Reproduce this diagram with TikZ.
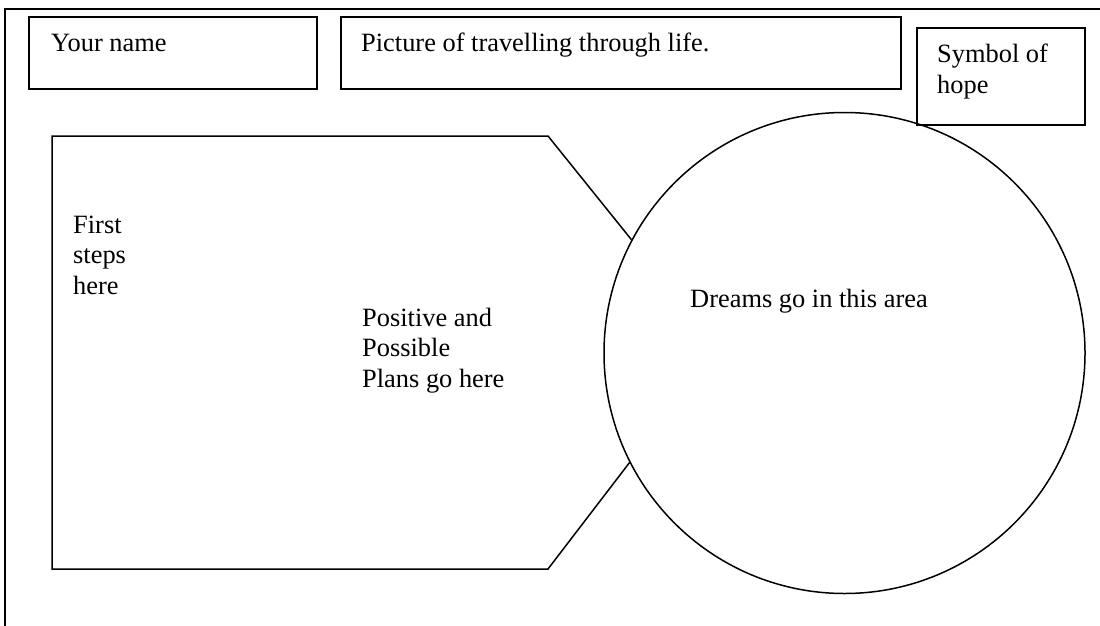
\documentclass[tikz,border=0pt]{standalone}
\usepackage{fontspec}
\setmainfont{Liberation Serif}
\begin{document}
\begin{tikzpicture}[x=1pt,y=-1pt,
  frame/.style={line width=1.8pt, line join=miter},
  thin/.style={line width=1.5pt},
  lbl/.style={anchor=base west, inner sep=0pt, align=left,
    font=\fontsize{26.4}{30.5}\selectfont}]
\useasboundingbox (0,0) rectangle (1100,626);
% outer border
\coordinate (ob1) at (1100,9);
\coordinate (ob2) at (5,9);
\coordinate (ob3) at (5,626);
\draw[frame] (ob1) -- (ob2) -- (ob3);
% top boxes
\draw[frame] (29,17) rectangle (317,89);
\draw[frame] (341,17) rectangle (901,89);
\draw[frame] (917,28) rectangle (1085,125);
\node[lbl] (name) at (51,52) {Your name};
\node[lbl] (pic) at (361,52) {Picture of travelling through life.};
\node[lbl] (hope) at (937,93) {Symbol of\\hope};
% circle
\node[draw, thin, circle, minimum size=481pt, inner sep=0pt] (c) at (844.5,353) {};
% pentagon
\coordinate (p1) at (548,136);
\coordinate (p2) at (52,136);
\coordinate (p3) at (52,569);
\coordinate (p4) at (548,569);
\draw[thin, line join=miter] (c.152.8) -- (p1) -- (p2) -- (p3) -- (p4) -- (c.207.2);
\node[lbl] (first) at (73,294) {First\\steps\\here};
\node[lbl] (plans) at (362,387) {Positive and\\Possible\\Plans go here};
\node[lbl] (dreams) at (690,307) {Dreams go in this area};
\end{tikzpicture}
\end{document}
